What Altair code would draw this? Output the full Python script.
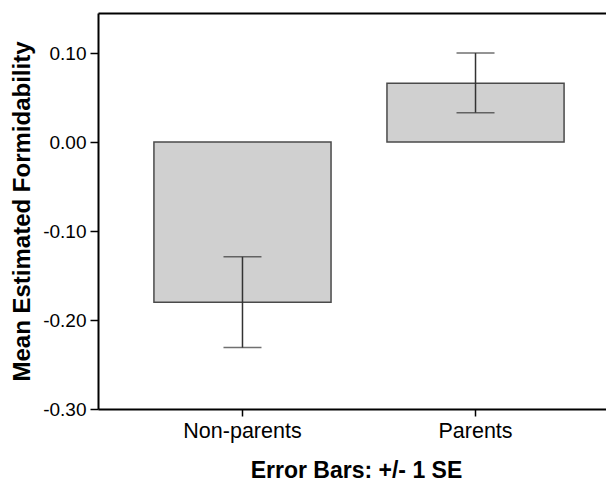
import altair as alt
import pandas as pd

groups = ["Non-parents", "Parents"]
means = [-0.180, 0.066]
err_low = [-0.231, 0.033]
err_high = [-0.129, 0.100]
y_ticks = [-0.30, -0.20, -0.10, 0.00, 0.10]

df = pd.DataFrame({"group": groups, "mean": means, "lo": err_low, "hi": err_high})

FONT = "Liberation Sans"

# the original plot area runs past the right edge of the picture (cropped)
xscale = alt.Scale(domain=groups, paddingInner=0.24, paddingOuter=0.24, range=[0, 522])
yscale = alt.Scale(domain=[-0.30, 0.145], nice=False, zero=False)

base = alt.Chart(df)

bars = base.mark_bar(fill="#d0d0d0", stroke="#4a4a4a", strokeWidth=1.5).encode(
    x=alt.X("group:N", scale=xscale, sort=groups,
            axis=alt.Axis(title="Error Bars: +/- 1 SE", labelAngle=0,
                          labelFontSize=21.5, labelFont=FONT, labelColor="black",
                          titleFontSize=23, titleFont=FONT, titleFontWeight="bold",
                          titleColor="black", tickSize=7, tickColor="black",
                          tickWidth=1.5, domainColor="black", domainWidth=2,
                          labelPadding=4, titlePadding=18, titleX=258)),
    y=alt.Y("mean:Q", scale=yscale,
            axis=alt.Axis(title="Mean Estimated Formidability", values=y_ticks,
                          labelExpr="replace(format(datum.value, '.2f'), '\u2212', '-')",
                          labelFontSize=19, labelFont=FONT, labelColor="black",
                          titleFontSize=24, titleFont=FONT, titleFontWeight="bold",
                          titleColor="black", tickSize=8, tickColor="black",
                          tickWidth=1.5, domainColor="black", domainWidth=2,
                          labelPadding=4, titlePadding=8, grid=False)),
    y2=alt.datum(0),
)

rules = base.mark_rule(color="#333333", strokeWidth=1.5).encode(
    x=alt.X("group:N", scale=xscale, sort=groups,
            axis=alt.Axis(orient="top", title=None, labels=False, ticks=False,
                          domainColor="black", domainWidth=2)),
    y=alt.Y("lo:Q", scale=yscale, axis=None),
    y2="hi:Q",
)

caps_lo = base.mark_tick(color="#333333", thickness=1.5, size=38).encode(
    x=alt.X("group:N", scale=xscale, sort=groups, axis=None),
    y=alt.Y("lo:Q", scale=yscale, axis=None),
)
caps_hi = base.mark_tick(color="#333333", thickness=1.5, size=38).encode(
    x=alt.X("group:N", scale=xscale, sort=groups, axis=None),
    y=alt.Y("hi:Q", scale=yscale, axis=None),
)

chart = alt.layer(bars, rules, caps_lo, caps_hi).resolve_axis(
    x="independent", y="independent"
).properties(
    width=508, height=396,
    autosize=alt.AutoSizeParams(type="none"),
    padding={"left": 90, "top": 5, "right": 0, "bottom": 74},
).configure_view(stroke=None).configure_axis(grid=False)

chart.save("out.html", embed_options={"renderer": "svg", "actions": False})
